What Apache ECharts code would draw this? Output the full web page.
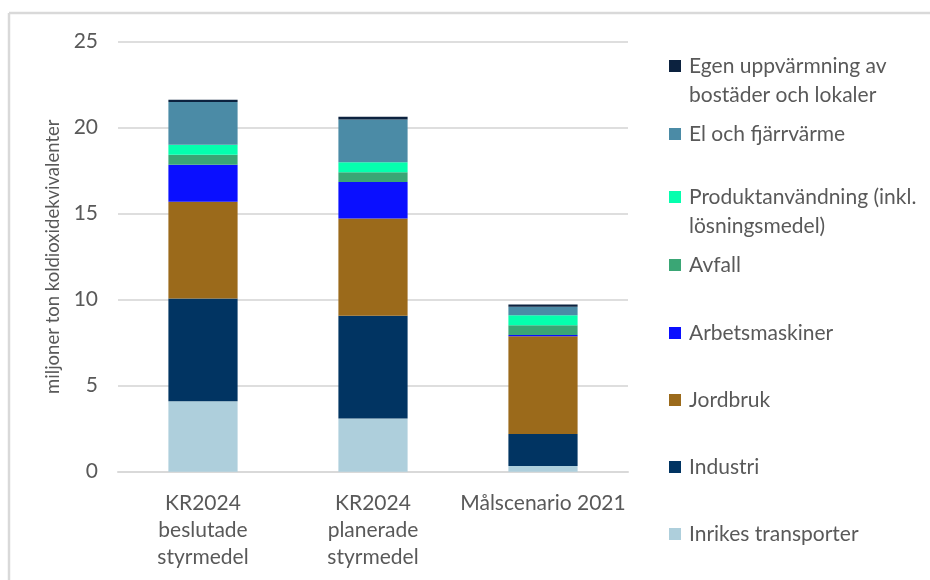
<!DOCTYPE html>
<html>
<head>
<meta charset="utf-8">
<script src="https://cdn.jsdelivr.net/npm/echarts@6/dist/echarts.min.js"></script>
<style>
  html, body { margin: 0; padding: 0; background: #fff; }
  #chart { width: 930px; height: 580px; }
</style>
</head>
<body>
<div id="chart"></div>
<script>
// Scenario categories (x axis)
const categories = [
  'KR2024\nbeslutade\nstyrmedel',
  'KR2024\nplanerade\nstyrmedel',
  'Målscenario 2021'
];

// Emissions per sector, million tonnes CO2-equivalents
const inrikesTransporter = [4.10, 3.10, 0.33];
const industri           = [5.97, 5.97, 1.86];
const jordbruk           = [5.63, 5.65, 5.68];
const arbetsmaskiner     = [2.15, 2.13, 0.08];
const avfall             = [0.58, 0.56, 0.56];
const produktanvandning  = [0.58, 0.58, 0.58];
const elFjarrvarme       = [2.48, 2.49, 0.50];
const egenUppvarmning    = [0.13, 0.15, 0.13];

const yTicks = { min: 0, max: 25, interval: 5 };
const yAxisTitle = 'miljoner ton koldioxidekvivalenter';

// Stack order, bottom to top
const sectors = [
  { name: 'Inrikes transporter', data: inrikesTransporter, color: '#aecfdc' },
  { name: 'Industri', data: industri, color: '#013462' },
  { name: 'Jordbruk', data: jordbruk, color: '#9b6a1b' },
  { name: 'Arbetsmaskiner', data: arbetsmaskiner, color: '#0a0fff' },
  { name: 'Avfall', data: avfall, color: '#3aa675' },
  { name: 'Produktanvändning (inkl. lösningsmedel)', data: produktanvandning, color: '#05ffae' },
  { name: 'El och fjärrvärme', data: elFjarrvarme, color: '#4b8ba6' },
  { name: 'Egen uppvärmning av bostäder och lokaler', data: egenUppvarmning, color: '#0c223f' }
];

// Legend entries, top to bottom, with the line-broken label text
const legendRows = [
  { name: 'Egen uppvärmning av bostäder och lokaler', text: 'Egen uppvärmning av\nbostäder och lokaler', y: 66 },
  { name: 'El och fjärrvärme', text: 'El och fjärrvärme', y: 134 },
  { name: 'Produktanvändning (inkl. lösningsmedel)', text: 'Produktanvändning (inkl.\nlösningsmedel)', y: 197 },
  { name: 'Avfall', text: 'Avfall', y: 265 },
  { name: 'Arbetsmaskiner', text: 'Arbetsmaskiner', y: 333 },
  { name: 'Jordbruk', text: 'Jordbruk', y: 400 },
  { name: 'Industri', text: 'Industri', y: 467 },
  { name: 'Inrikes transporter', text: 'Inrikes transporter', y: 534 }
];

const FONT = 'Lato, "Open Sans", sans-serif';
const TEXT = '#595959';
const LINE_H = 29;

const legends = legendRows.map(r => {
  const lines = r.text.split('\n');
  // extra blank line on top keeps the marker level with the first text line
  const label = lines.length > 1 ? ' \n' + r.text : r.text;
  const blockH = (lines.length > 1 ? lines.length + 1 : 1) * LINE_H;
  return {
    data: [r.name],
    left: 669,
    top: r.y - blockH / 2,
    padding: 0,
    itemWidth: 12,
    itemHeight: 12,
    itemGap: 8,
    icon: 'rect',
    selectedMode: false,
    formatter: () => label,
    textStyle: { color: TEXT, fontSize: 21, fontFamily: FONT, lineHeight: LINE_H, padding: [0, 0, 0, 3] }
  };
});

const chart = echarts.init(document.getElementById('chart'), null, { renderer: 'canvas' });

chart.setOption({
  animation: false,
  backgroundColor: '#ffffff',
  textStyle: { fontFamily: FONT },
  grid: { left: 118, right: 302, top: 41.7, bottom: 108.3, containLabel: false },
  legend: legends,
  xAxis: {
    type: 'category',
    data: categories,
    axisLine: { show: true, lineStyle: { color: '#d9d9d9', width: 2 } },
    axisTick: { show: false },
    axisLabel: {
      color: TEXT, fontSize: 21, fontFamily: FONT, lineHeight: 27,
      margin: 18, interval: 0, verticalAlign: 'top'
    }
  },
  yAxis: {
    type: 'value',
    min: yTicks.min,
    max: yTicks.max,
    interval: yTicks.interval,
    name: yAxisTitle,
    nameLocation: 'middle',
    nameGap: 55,
    nameMoveOverlap: false,
    nameTextStyle: { color: TEXT, fontSize: 18.5, fontFamily: FONT },
    axisLine: { show: false },
    axisTick: { show: false },
    axisLabel: { color: TEXT, fontSize: 21, fontFamily: FONT, margin: 20 },
    splitLine: { lineStyle: { color: '#dedede', width: 2 } }
  },
  graphic: [
    // chart frame (top and left edges)
    { type: 'line', shape: { x1: 9, y1: 13, x2: 930, y2: 13 }, style: { stroke: '#d9d9d9', lineWidth: 2.5 }, silent: true },
    { type: 'line', shape: { x1: 9, y1: 13, x2: 9, y2: 580 }, style: { stroke: '#d9d9d9', lineWidth: 2.5 }, silent: true }
  ],
  series: sectors.map(s => ({
    name: s.name,
    type: 'bar',
    stack: 'total',
    data: s.data,
    barWidth: '40.7%',
    itemStyle: { color: s.color },
    emphasis: { disabled: true }
  }))
});
</script>
</body>
</html>
